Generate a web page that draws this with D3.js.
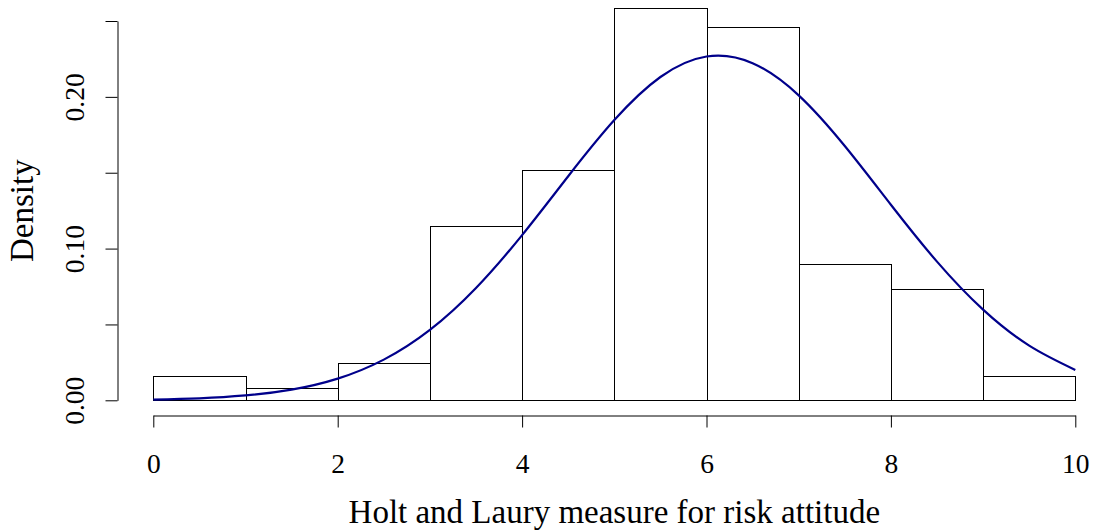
<!DOCTYPE html>
<html>
<head>
<meta charset="utf-8">
<script src="https://cdn.jsdelivr.net/npm/d3@7"></script>
<style>
  html, body { margin: 0; padding: 0; background: #fff; }
  svg { display: block; }
  text { font-family: "Liberation Serif", "DejaVu Serif", serif; fill: #000; }
</style>
</head>
<body>
<svg id="chart" width="1096" height="531"></svg>
<script>
// Histogram bins (lower edges, width 1) and their densities
const binStarts = [0, 1, 2, 3, 4, 5, 6, 7, 8, 9];
const binDensity = [0.0162, 0.0081, 0.0246, 0.1147, 0.1516, 0.2584, 0.2459, 0.0900, 0.0736, 0.0162];

// Fitted normal density, sampled every 0.5 along the measure
const curveX = [0, 0.5, 1, 1.5, 2, 2.5, 3, 3.5, 4, 4.5, 5, 5.5, 6, 6.5, 7, 7.5, 8, 8.5, 9, 9.5, 10];
const curveY = [0.00051, 0.00133, 0.00319, 0.00703, 0.01429, 0.02681, 0.04640, 0.07403, 0.1089, 0.1477,
                0.1847, 0.2131, 0.2266, 0.2222, 0.2010, 0.1676, 0.1289, 0.09139, 0.05975, 0.03603, 0.02003];

// Axis ticks and their labels
const xTicks = [0, 2, 4, 6, 8, 10];
const yTicks = [0, 0.05, 0.10, 0.15, 0.20, 0.25];
const yTickLabels = ["0.00", "", "0.10", "", "0.20", ""];

const xTitle = "Holt and Laury measure for risk attitude";
const yTitle = "Density";

const svg = d3.select("#chart");

const x = d3.scaleLinear().domain([0, 10]).range([153.3, 1075.3]);
const y = d3.scaleLinear().domain([0, 0.25]).range([400.3, 21]);

// Bars
svg.append("g")
  .selectAll("rect")
  .data(binStarts.map((s, i) => ({ s, d: binDensity[i] })))
  .join("rect")
  .attr("x", d => Math.round(x(d.s)) + 0.5)
  .attr("y", d => Math.round(y(d.d)) + 0.5)
  .attr("width", d => Math.round(x(d.s + 1)) - Math.round(x(d.s)))
  .attr("height", d => Math.round(y(0)) - Math.round(y(d.d)))
  .attr("fill", "#fff")
  .attr("stroke", "#000")
  .attr("stroke-width", 1);

// Normal density curve
const line = d3.line()
  .x((d, i) => x(curveX[i]))
  .y(d => y(d))
  .curve(d3.curveNatural);

svg.append("path")
  .attr("d", line(curveY))
  .attr("fill", "none")
  .attr("stroke", "#00008B")
  .attr("stroke-width", 2.2);

// X axis (detached below the plot, R style)
const xAxis = d3.axisBottom(x)
  .tickValues(xTicks)
  .tickFormat(d3.format("d"))
  .tickSize(12)
  .tickPadding(26)
  .tickSizeOuter(0);

const gx = svg.append("g")
  .attr("transform", "translate(0,415.5)")
  .call(xAxis);
gx.selectAll("text").attr("font-size", 27.5).attr("font-family", "Liberation Serif");
gx.selectAll("path, line").attr("stroke", "#000").attr("stroke-width", 1);

// Y axis
const yAxis = d3.axisLeft(y)
  .tickValues(yTicks)
  .tickFormat((d, i) => yTickLabels[i])
  .tickSize(12)
  .tickPadding(0)
  .tickSizeOuter(0);

const gy = svg.append("g")
  .attr("transform", "translate(117.5,0)")
  .call(yAxis);
gy.selectAll("path, line").attr("stroke", "#000").attr("stroke-width", 1);
gy.selectAll("text")
  .attr("font-size", 27.5)
  .attr("font-family", "Liberation Serif")
  .attr("text-anchor", "middle")
  .attr("dy", 0)
  .attr("x", 0)
  .attr("transform", "translate(-34,0) rotate(-90)");

// Axis titles
svg.append("text")
  .attr("x", x(5.0))
  .attr("y", 523)
  .attr("text-anchor", "middle")
  .attr("font-size", 33)
  .text(xTitle);

svg.append("text")
  .attr("transform", `translate(33,${y(0.125)}) rotate(-90)`)
  .attr("text-anchor", "middle")
  .attr("font-size", 33)
  .text(yTitle);
</script>
</body>
</html>
